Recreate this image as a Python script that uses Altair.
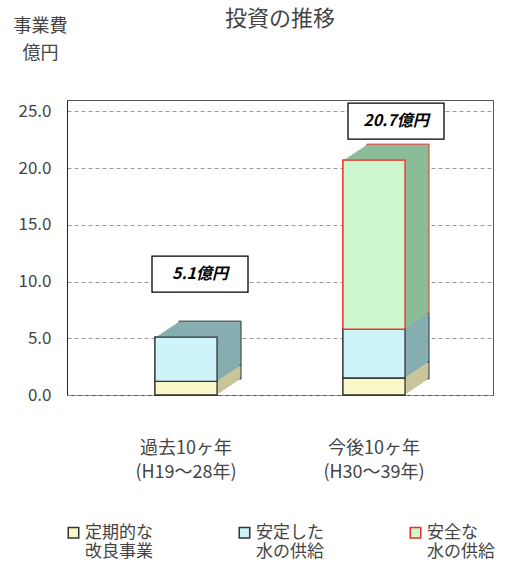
import altair as alt
import pandas as pd

# --- data -------------------------------------------------------------
periods = ["過去10ヶ年|(H19～28年)", "今後10ヶ年|(H30～39年)"]
categories = ["定期的な|改良事業", "安定した|水の供給", "安全な|水の供給"]
past_values = [1.2, 3.9, 0.0]
future_values = [1.5, 4.3, 14.9]
totals = [5.1, 20.7]
total_labels = ["5.1億円", "20.7億円"]
y_ticks = [0, 5, 10, 15, 20, 25]

# --- styling ------------------------------------------------------------
FONT = "Noto Sans CJK JP"
front_colors = ["#fbf7c9", "#cdf5f9", "#cdf8cd"]
side_colors = ["#c9c59b", "#86aeb0", "#8dbb98"]
edge_colors = ["#333333", "#333333", "#e8302b"]
DEPTH_X, DEPTH_Y, STEPS = 24, 16, 16

# stacked segments with explicit start/end
rows = []
for period, values in zip(periods, [past_values, future_values]):
    base = 0.0
    for order, (cat, v) in enumerate(zip(categories, values)):
        if v > 0:
            rows.append({"period": period, "category": cat, "order": order,
                         "start": base, "end": base + v})
        base += v
seg = pd.DataFrame(rows)
tot = pd.DataFrame({"period": periods, "total": totals, "label": total_labels})

x_enc = alt.X(
    "period:N", sort=periods, title=None,
    scale=alt.Scale(paddingInner=0.67, paddingOuter=0.468),
    axis=alt.Axis(labelAngle=0, ticks=False, domain=False, labelFont=FONT,
                  labelFontSize=18, labelColor="#444", labelPadding=44,
                  labelLineHeight=24, labelExpr="split(datum.label, '|')"),
)
y_enc = alt.Y(
    "start:Q",
    scale=alt.Scale(domain=[0, 25]),
    axis=alt.Axis(values=y_ticks, format=".1f", ticks=False, labelFont=FONT,
                  labelFontSize=17, labelColor="#444", labelPadding=16,
                  domainColor="#222", gridDash=[4, 3], gridColor="#9a9a9a",
                  title=["事業費", "億円"], titleAngle=0, titleFont=FONT,
                  titleFontSize=18, titleFontWeight="normal", titleColor="#444",
                  titleX=-27, titleY=-74, titleAlign="center",
                  titleLineHeight=27, titleBaseline="middle"),
)

base = alt.Chart(seg)
is_red = alt.datum.category == categories[2]

color_scale = alt.Scale(domain=categories, range=front_colors)
edge_scale = alt.Scale(domain=categories, range=edge_colors)

legend = alt.Legend(
    title=None, orient="none", legendX=-2, legendY=424, direction="horizontal",
    columns=3, columnPadding=83, symbolType="square", symbolSize=110,
    symbolStrokeWidth=1.5, labelFont=FONT, labelFontSize=17, labelColor="#444",
    labelOffset=3, labelExpr="split(datum.label, '|')",
)


def front_faces(with_legend):
    lg = dict(legend=legend) if with_legend else {}
    return base.mark_bar(strokeWidth=1.3).encode(
        x=x_enc, y=y_enc, y2="end:Q",
        color=alt.Color("category:N", sort=categories, scale=color_scale, **lg),
        stroke=alt.Stroke("category:N", sort=categories, scale=edge_scale, **lg),
    )


# extruded depth: stacked copies shifted back and up
depth_layers = []
for k in range(STEPS, 0, -1):
    dx = DEPTH_X * k / STEPS
    dy = -DEPTH_Y * k / STEPS
    enc = dict(
        x=x_enc, y=y_enc, y2="end:Q",
        fill=alt.Fill("category:N", sort=categories, legend=None,
                      scale=alt.Scale(domain=categories, range=side_colors)),
    )
    if k == STEPS:
        layer = base.mark_bar(xOffset=dx, yOffset=dy, y2Offset=dy,
                              strokeWidth=1).encode(
            stroke=alt.condition(is_red, alt.value(edge_colors[2]),
                                 alt.value(edge_colors[0])),
            **enc)
    else:
        layer = base.mark_bar(xOffset=dx, yOffset=dy, y2Offset=dy).encode(**enc)
    depth_layers.append(layer)

# boxed value labels above each column
box_path = "M-1,-0.375 L1,-0.375 L1,0.375 L-1,0.375 Z"
label_layers = []
for period, (ox, oy) in zip(periods, [(14, -63), (22, -39)]):
    sub = alt.Chart(tot).transform_filter(alt.datum.period == period)
    label_layers.append(sub.mark_point(
        shape=box_path, size=96 * 96, filled=True, fill="white", stroke="black",
        strokeWidth=1.3, opacity=1, xOffset=ox, yOffset=oy,
    ).encode(x=alt.X("period:N", sort=periods), y="total:Q"))
    label_layers.append(sub.mark_text(
        font=FONT, fontSize=16, fontWeight="bold", fontStyle="italic",
        color="black", xOffset=ox, yOffset=oy,
    ).encode(x=alt.X("period:N", sort=periods), y="total:Q", text="label:N"))

chart = alt.layer(front_faces(True), *depth_layers, front_faces(False),
                  *label_layers).properties(
    width=426, height=295,
    title=alt.Title("投資の推移", font=FONT, fontSize=22, fontWeight="normal",
                    color="#444", anchor="middle", dy=18),
    autosize=alt.AutoSizeParams(type="none"),
    padding={"left": 67, "top": 100, "right": 20, "bottom": 172},
).configure_view(stroke="#555", strokeWidth=1)

chart.save("out.html", embed_options={"renderer": "svg", "actions": False})
